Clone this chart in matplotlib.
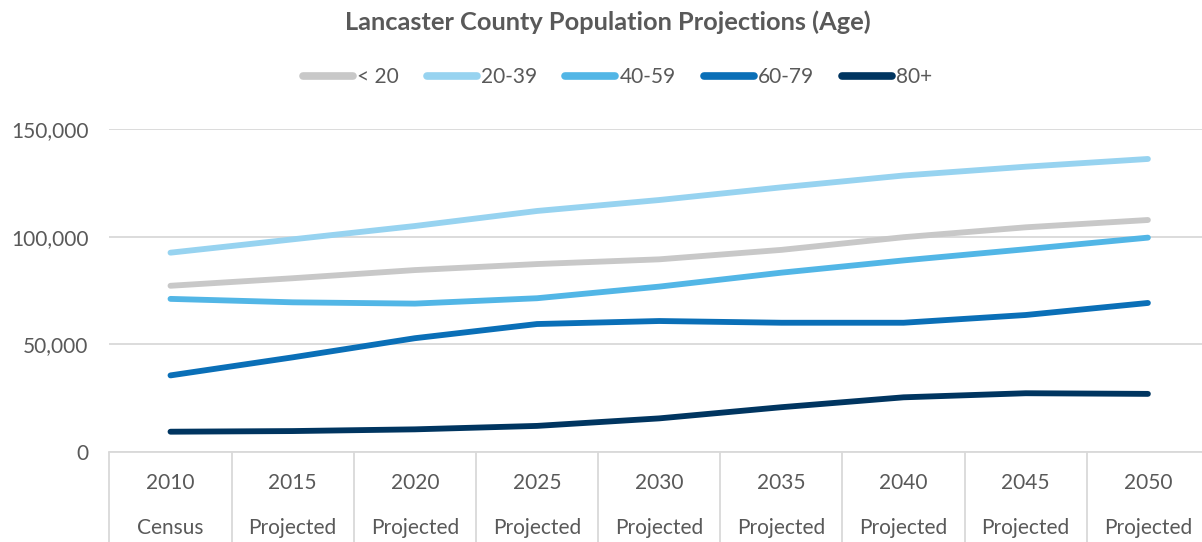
import matplotlib
matplotlib.use("Agg")
import matplotlib.pyplot as plt
from matplotlib.ticker import FuncFormatter, FixedLocator
import matplotlib.transforms as mtransforms

years = ["2010", "2015", "2020", "2025", "2030", "2035", "2040", "2045", "2050"]
kinds = ["Census", "Projected", "Projected", "Projected", "Projected",
         "Projected", "Projected", "Projected", "Projected"]

under_20 = [77200, 80700, 84500, 87300, 89500, 93900, 99800, 104400, 107800]
age_20_39 = [92600, 98800, 105000, 112000, 117100, 123000, 128500, 132600, 136200]
age_40_59 = [71100, 69500, 68900, 71400, 76800, 83300, 89000, 94200, 99600]
age_60_79 = [35500, 43900, 52800, 59400, 60800, 60000, 60000, 63600, 69200]
age_80_plus = [9300, 9600, 10400, 12000, 15500, 20700, 25300, 27200, 26900]

series_names = ["< 20", "20-39", "40-59", "60-79", "80+"]
series_vals = [under_20, age_20_39, age_40_59, age_60_79, age_80_plus]
colors = ["#C8C8C8", "#97D3F0", "#52B6E6", "#0A6FB7", "#003560"]

plt.rcParams['font.family'] = ['Lato', 'DejaVu Sans']
text_color = "#595959"
grid_color = "#D9D9D9"

fig = plt.figure(figsize=(12.02, 5.42), dpi=100)
W, H = 1202, 542
left, right, top, bottom = 109.4, 1209, 129.3, 451.7
ax = fig.add_axes([left / W, 1 - bottom / H, (right - left) / W, (bottom - top) / H])

x = list(range(len(years)))
for name, vals, c in zip(series_names, series_vals, colors):
    ax.plot(x, vals, color=c, lw=4.2, solid_capstyle='round',
            solid_joinstyle='round', label=name, zorder=3)

ax.set_xlim(-0.5, len(years) - 0.5)
ax.set_ylim(0, 150000)
ax.set_yticks([0, 50000, 100000, 150000])
ax.yaxis.set_major_formatter(FuncFormatter(lambda v, p: f"{int(v):,}"))
ax.grid(axis='y', color=grid_color, lw=1.3, zorder=0)
for s in ["top", "right", "left"]:
    ax.spines[s].set_visible(False)
ax.spines["bottom"].set_color(grid_color)
ax.spines["bottom"].set_linewidth(1.3)
ax.tick_params(axis='y', length=0, pad=15, labelsize=15, labelcolor=text_color)

ax.set_xticks(x)
ax.set_xticklabels(years)
ax.xaxis.set_minor_locator(FixedLocator([i - 0.5 for i in range(len(years) + 1)]))
ax.tick_params(axis='x', which='major', length=0, pad=15, labelsize=15, labelcolor=text_color)
ax.tick_params(axis='x', which='minor', length=66, width=1.3, color=grid_color)

trans = mtransforms.blended_transform_factory(ax.transData, ax.transAxes)
for i, k in enumerate(kinds):
    ax.text(i, -(528 - bottom) / (bottom - top), k, transform=trans, ha='center',
            va='center', fontsize=15, color=text_color)

fig.text(0.506, 1 - 22 / H, "Lancaster County Population Projections (Age)",
         ha='center', va='center', fontsize=18.3, fontweight='bold', color=text_color)

leg = fig.legend(loc='center', bbox_to_anchor=(0.514, 1 - 77 / H), ncol=5, frameon=False,
                 fontsize=15, handlelength=2.4, handletextpad=0.2, columnspacing=1.35,
                 labelcolor=text_color)
for h in leg.get_lines():
    h.set_linewidth(5.5)
    h.set_solid_capstyle('round')

fig.savefig("out.png", dpi=100)
